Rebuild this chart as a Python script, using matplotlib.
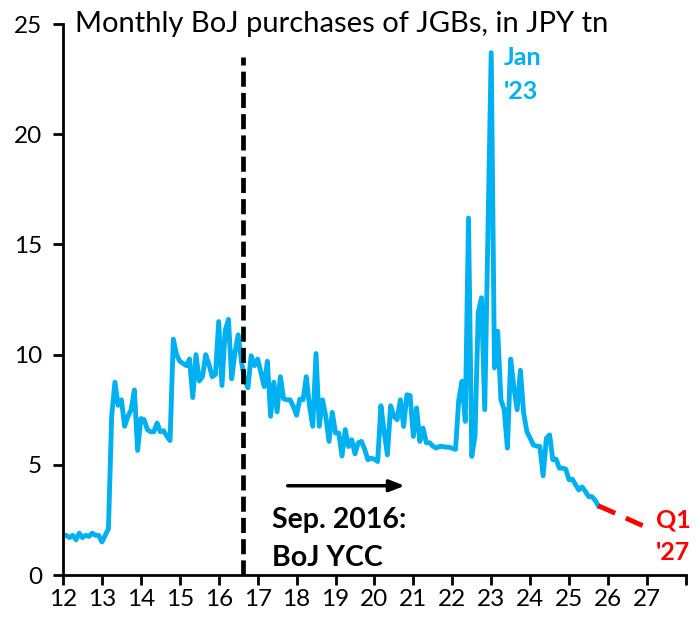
import matplotlib.pyplot as plt
import numpy as np

plt.rcParams['font.family'] = ['Lato', 'DejaVu Sans']

blue = '#00B0F0'
red = '#FF0000'

# monthly BoJ JGB purchases, JPY tn, Jan 2012 .. Oct 2025
y2012 = [1.8, 1.8, 1.7, 1.8, 1.6, 1.9, 1.7, 1.8, 1.75, 1.9, 1.8, 1.8]
y2013 = [1.5, 1.8, 2.1, 7.2, 8.75, 7.7, 7.95, 6.75, 7.2, 7.5, 8.4, 5.65]
y2014 = [7.1, 7.05, 6.6, 6.5, 6.5, 6.9, 6.5, 6.55, 6.3, 6.1, 10.7, 10.0]
y2015 = [9.7, 9.6, 9.5, 9.8, 8.05, 10.0, 8.8, 9.0, 10.0, 9.55, 9.0, 9.1]
y2016 = [11.5, 8.6, 11.1, 11.6, 8.9, 10.1, 10.9, 9.7, 8.85, 8.5, 9.95, 9.5]
y2017 = [9.8, 9.2, 8.55, 9.7, 7.2, 8.75, 7.4, 9.0, 8.0, 7.95, 7.95, 7.65]
y2018 = [7.25, 7.98, 7.95, 9.0, 7.65, 6.75, 10.05, 6.75, 7.95, 7.2, 6.06, 7.38]
y2019 = [6.44, 6.44, 5.4, 6.6, 5.83, 6.14, 5.5, 6.0, 6.06, 5.7, 5.23, 5.3]
y2020 = [5.25, 5.15, 7.68, 6.5, 5.45, 7.68, 7.2, 7.05, 7.95, 6.74, 8.18, 8.14]
y2021 = [6.29, 7.58, 6.06, 6.67, 6.0, 6.0, 5.85, 5.76, 5.83, 5.83, 5.8, 5.8]
y2022 = [5.75, 5.7, 7.95, 8.79, 6.97, 16.2, 5.38, 6.29, 11.9, 12.58, 7.5, 15.5]
y2023 = [23.7, 9.4, 11.06, 7.95, 7.5, 5.76, 9.8, 8.5, 7.5, 9.29, 7.35, 6.5]
y2024 = [6.21, 5.9, 5.85, 5.83, 4.5, 6.2, 6.36, 5.23, 5.26, 4.85, 4.85, 4.8]
y2025 = [4.32, 4.35, 4.1, 3.86, 4.0, 3.8, 3.56, 3.56, 3.4, 3.14]

purchases = (y2012 + y2013 + y2014 + y2015 + y2016 + y2017 + y2018 + y2019
             + y2020 + y2021 + y2022 + y2023 + y2024 + y2025)
months = 12 + np.arange(len(purchases)) / 12

# projected path to Q1 2027
proj_x = [25.75, 26.0, 26.25, 26.5, 26.75, 27.05]
proj_y = [3.14, 2.95, 2.75, 2.55, 2.35, 2.12]

ycc_start = 16.62
years = list(range(12, 29))
year_labels = [str(y) for y in range(12, 28)] + ['']

fig = plt.figure(figsize=(6.97, 6.27), dpi=100)
ax = fig.add_axes([0.0904, 0.0829, 0.8936, 0.8788])

ax.plot(months, purchases, color=blue, lw=3.5, solid_joinstyle='round')
ax.plot(proj_x, proj_y, color=red, lw=3.5, dashes=(3.8, 2.4))
ax.plot([ycc_start, ycc_start], [0, 23.5], color='black', lw=3.4, dashes=(3.2, 1.3))

ax.annotate('', xy=(20.85, 4.05), xytext=(17.7, 4.05),
            arrowprops=dict(arrowstyle='-|>,head_length=0.9,head_width=0.35',
                            color='black', lw=2.5))
ax.text(17.38, 2.5, 'Sep. 2016:', fontsize=20.5, fontweight='bold', va='center', ha='left')
ax.text(17.38, 0.75, 'BoJ YCC', fontsize=20.5, fontweight='bold', va='center', ha='left')

ax.text(23.32, 23.5, 'Jan', color=blue, fontsize=18, fontweight='bold', va='center', ha='left')
ax.text(23.32, 21.95, "'23", color=blue, fontsize=18, fontweight='bold', va='center', ha='left')
ax.text(27.23, 2.5, 'Q1', color=red, fontsize=18, fontweight='bold', va='center', ha='left')
ax.text(27.23, 1.0, "'27", color=red, fontsize=18, fontweight='bold', va='center', ha='left')

ax.text(12.3, 25.0, 'Monthly BoJ purchases of JGBs, in JPY tn', fontsize=21, va='center', ha='left')

ax.set_xlim(12, 28)
ax.set_ylim(0, 25)
ax.set_xticks(years)
ax.set_xticklabels(year_labels)
ax.set_yticks(range(0, 26, 5))
ax.tick_params(axis='both', labelsize=17.5, width=2, length=7, direction='out')
ax.tick_params(axis='x', pad=3)
ax.tick_params(axis='y', pad=8)
for s in ['top', 'right']:
    ax.spines[s].set_visible(False)
for s in ['left', 'bottom']:
    ax.spines[s].set_linewidth(2)

plt.savefig('out.png', dpi=100)
